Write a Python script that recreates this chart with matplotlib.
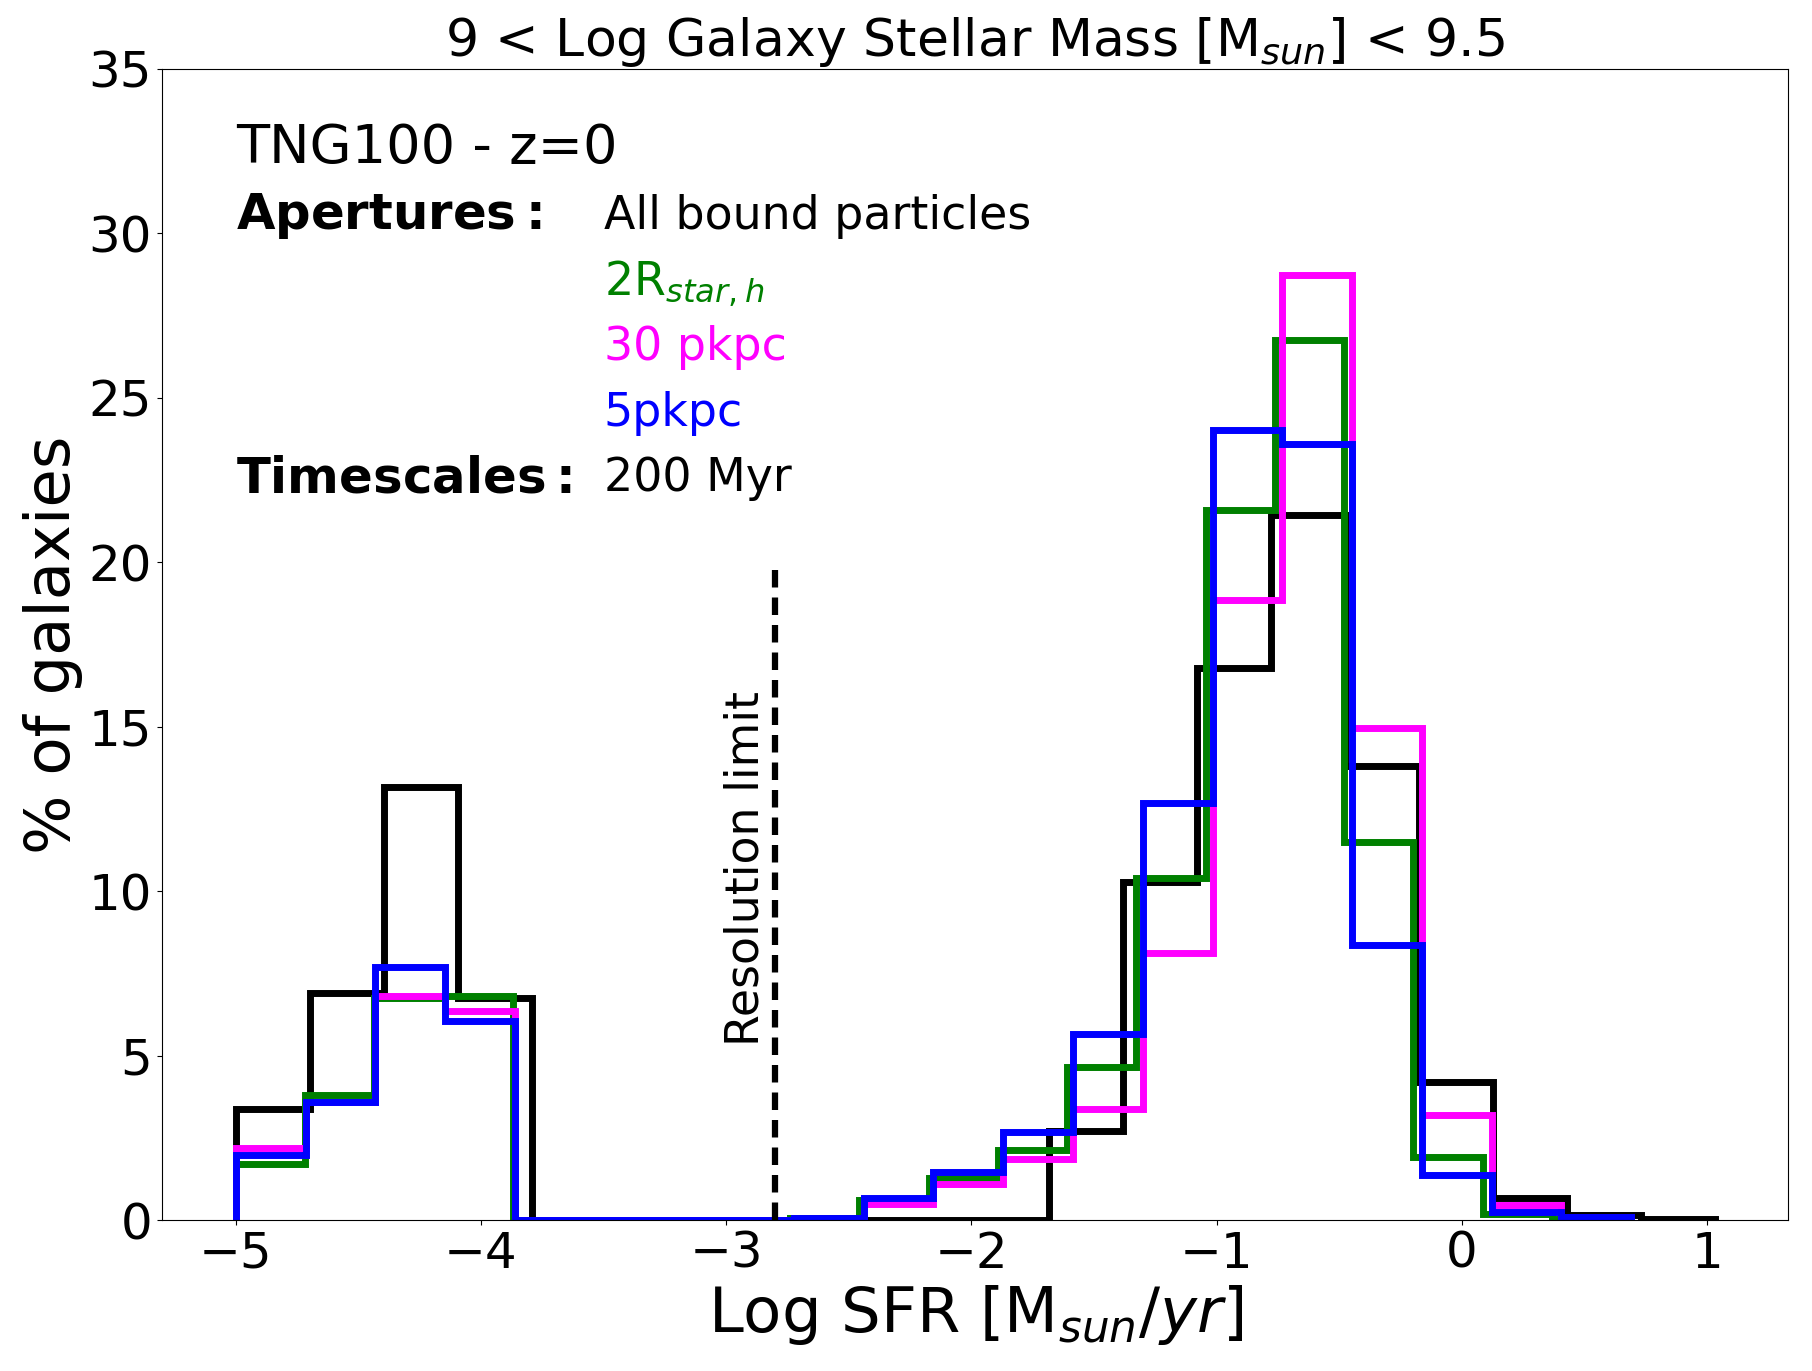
import numpy as np
import matplotlib
matplotlib.use("Agg")
import matplotlib.pyplot as plt

plt.rcParams['font.family'] = ['DejaVu Sans']

# Histogram ranges (min, max) and number of bins for each aperture
n_bins = 20
range_all = (-5.0, 1.03)
range_2r = (-5.0, 0.65)
range_30 = (-5.0, 0.69)
range_5 = (-5.0, 0.69)

# % of galaxies per bin
vals_all = [3.39, 6.90, 13.17, 6.76, 0, 0, 0, 0, 0, 0, 0, 2.70, 10.28, 16.77,
            21.42, 13.81, 4.20, 0.66, 0.15, 0.05]
vals_2r = [1.72, 3.79, 6.75, 6.81, 0, 0, 0, 0, 0.08, 0.61, 1.27, 2.12, 4.65,
           10.40, 21.59, 26.75, 11.50, 1.92, 0.20, 0.05]
vals_30 = [2.18, 3.60, 6.81, 6.37, 0, 0, 0, 0, 0.05, 0.48, 1.11, 1.87, 3.39,
           8.12, 18.84, 28.72, 14.97, 3.21, 0.45, 0.07]
vals_5 = [1.97, 3.59, 7.69, 6.04, 0, 0, 0, 0, 0.08, 0.66, 1.47, 2.68, 5.66,
          12.67, 24.00, 23.60, 8.36, 1.37, 0.25, 0.10]

colors = ['black', 'green', 'magenta', 'blue']
res_limit = -2.8

fig = plt.figure(figsize=(18.12, 13.71), dpi=100)
ax = fig.add_axes([0.0893, 0.110, 0.987 - 0.0893, 0.950 - 0.110])

for vals, rng, c in zip([vals_all, vals_2r, vals_30, vals_5],
                        [range_all, range_2r, range_30, range_5], colors):
    edges = np.linspace(rng[0], rng[1], n_bins + 1)
    ax.stairs(vals, edges, color=c, lw=5, baseline=0)

ax.vlines(res_limit, 0, 19.8, colors='black', lw=4.5, linestyles=(0, (2.8, 1.6)))
ax.text(-2.92, 5.3, 'Resolution limit', rotation=90, ha='center', va='bottom',
        fontsize=33)

ax.set_ylim(0, 35)
ax.set_yticks(np.arange(0, 36, 5))
ax.set_xticks(np.arange(-5, 2, 1))
ax.tick_params(labelsize=36)

ax.set_xlabel(r'Log SFR [M$_{sun}/yr$]', fontsize=45)
ax.set_ylabel('% of galaxies', fontsize=45)
ax.set_title(r'9 < Log Galaxy Stellar Mass [M$_{sun}$] < 9.5', fontsize=37.5)

ax.text(-5, 32.58, 'TNG100 - z=0', fontsize=39, va='center')
ax.text(-5, 30.51, r'$\bf{Apertures:}$', fontsize=35.8, va='center')
ax.text(-3.5, 30.51, 'All bound particles', fontsize=33, va='center', color='black')
ax.text(-3.5, 28.48, r'2R$_{star,h}$', fontsize=33, va='center', color='green')
ax.text(-3.5, 26.51, '30 pkpc', fontsize=33, va='center', color='magenta')
ax.text(-3.5, 24.51, '5pkpc', fontsize=33, va='center', color='blue')
ax.text(-5, 22.55, r'$\bf{Timescales:}$', fontsize=35.8, va='center')
ax.text(-3.5, 22.55, '200 Myr', fontsize=33, va='center', color='black')

fig.savefig('out.png', dpi=100)
